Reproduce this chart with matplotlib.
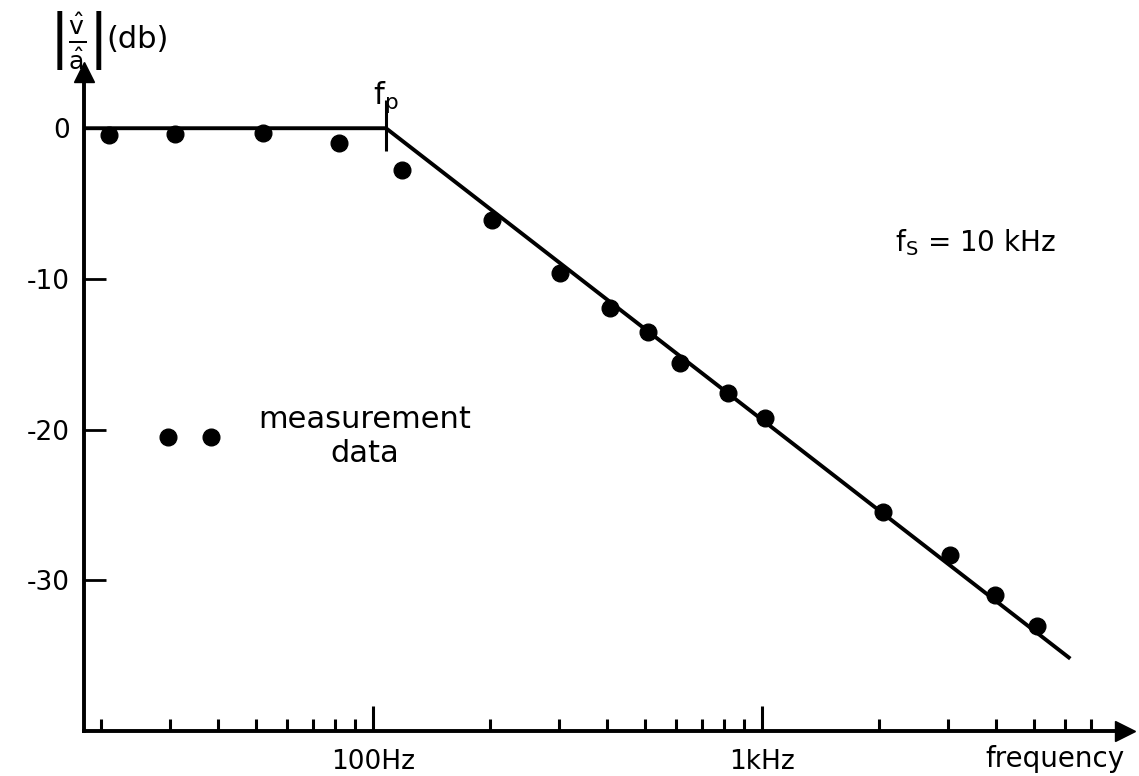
import matplotlib
matplotlib.use('Agg')
import matplotlib.pyplot as plt

# measured points (Hz, dB)
freq = [21, 31, 52, 82, 119, 202, 303, 406, 509, 615, 818, 1020, 2050, 3040, 3970, 5090]
gain = [-0.46, -0.40, -0.33, -1.0, -2.8, -6.1, -9.6, -11.9, -13.5, -15.6, -17.6, -19.2,
        -25.5, -28.3, -31.0, -33.0]

# straight-line asymptote: flat to fp, then -20 dB/decade
asym_f = [18, 108, 6200]
asym_db = [0, 0, -35.2]
fp = 108

major_f = [100, 1000]
major_lbl = ['100Hz', '1kHz']
minor_f = [20, 30, 40, 50, 60, 70, 80, 90,
           200, 300, 400, 500, 600, 700, 800, 900,
           2000, 3000, 4000, 5000, 6000, 7000]
y_ticks = [0, -10, -20, -30]

plt.rcParams['font.family'] = 'DejaVu Sans'

fig = plt.figure(figsize=(11.39, 7.76), dpi=100)
ax = fig.add_axes([0.0737, 0.058, 0.9140, 0.849])

ax.set_xscale('log')
ax.set_xlim(18.07, 8570)
ax.set_ylim(-40.0, 3.72)

lw = 2.8
ax.plot(asym_f, asym_db, color='black', lw=lw, solid_capstyle='butt', zorder=3)
ax.plot(freq, gain, 'o', color='black', ms=12, zorder=2, label='measurement\ndata')
ax.vlines(fp, -1.5, 1.9, color='black', lw=2.2)
ax.text(fp, 0.9, r'$\mathregular{f_p}$', fontsize=22, ha='center', va='bottom')

# axes: only left and bottom with arrow heads
for s in ['top', 'right']:
    ax.spines[s].set_visible(False)
for s in ['left', 'bottom']:
    ax.spines[s].set_linewidth(lw)
ax.plot(1, 0, '>', color='black', ms=14, transform=ax.transAxes, clip_on=False)
ax.plot(0, 1, '^', color='black', ms=14, transform=ax.transAxes, clip_on=False)

ax.set_xticks(major_f)
ax.set_xticklabels(major_lbl)
ax.set_xticks(minor_f, minor=True)
ax.set_xticklabels([], minor=True)
ax.tick_params(axis='x', which='major', direction='in', length=18, width=2.2,
               labelsize=19, pad=13)
ax.tick_params(axis='x', which='minor', direction='in', length=9, width=2.2)

ax.set_yticks(y_ticks)
ax.set_yticklabels([str(v) for v in y_ticks])
ax.tick_params(axis='y', which='major', direction='in', length=16, width=2.0,
               labelsize=19, pad=10)
ax.yaxis.set_minor_locator(plt.NullLocator())

ax.text(1.0, -0.022, 'frequency', transform=ax.transAxes, ha='right', va='top',
        fontsize=20)
ax.text(2200, -7.6, r'$\mathregular{f_S}$ = 10 kHz', fontsize=20, ha='left', va='center')

# y label: |v^/a^| (db)
fig.text(76 / 1139, 1 - 40 / 776,
         r'$\left|\frac{\hat{\mathrm{v}}}{\hat{\mathrm{a}}}\right|$',
         fontsize=26, ha='center', va='center')
fig.text(106 / 1139, 1 - 40 / 776, '(db)', fontsize=22, ha='left', va='center')

leg = ax.legend(loc='center left', bbox_to_anchor=(0.0723, 0.447), numpoints=2,
                frameon=False, fontsize=22, handlelength=2.0, handletextpad=1.25,
                borderpad=0, borderaxespad=0)
for t in leg.get_texts():
    t.set_multialignment('center')

fig.savefig('out.png', dpi=100)
